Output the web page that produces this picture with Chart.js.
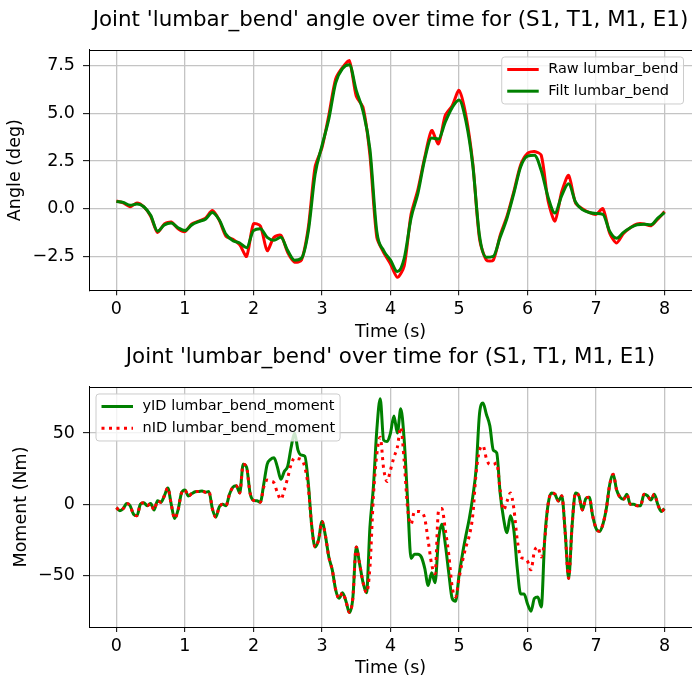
<!DOCTYPE html>
<html>
<head>
<meta charset="utf-8">
<script src="https://cdn.jsdelivr.net/npm/chart.js@4.4.1/dist/chart.umd.min.js"></script>
<style>
    html, body { margin: 0; padding: 0; background: #fff; }
    #wrap { position: relative; width: 692px; height: 686px; overflow: hidden; }
    canvas { position: absolute; left: 0; }
    #angleChart { top: 0; }
    #momentChart { top: 336px; }
</style>
</head>
<body>
<div id="wrap">
    <canvas id="angleChart" width="692" height="343"></canvas>
    <canvas id="momentChart" width="692" height="350"></canvas>
</div>
<script>
// Верхний график: угол
const angleTime = [0,0.1,0.2,0.3,0.4,0.5,0.6,0.7,0.8,0.9,
    1,1.1,1.2,1.3,1.4,1.5,1.6,1.7,1.8,1.9,
    2,2.1,2.2,2.3,2.4,2.5,2.6,2.7,2.8,2.9,
    3,3.1,3.2,3.3,3.4,3.5,3.6,3.7,3.8,3.9,
    4,4.1,4.2,4.3,4.4,4.5,4.6,4.7,4.8,4.9,
    5,5.1,5.2,5.3,5.4,5.5,5.6,5.7,5.8,5.9,
    6,6.1,6.2,6.3,6.4,6.5,6.6,6.7,6.8,6.9,
    7,7.1,7.2,7.3,7.4,7.5,7.6,7.7,7.8,7.9,
    8];
const rawAngle = [0.4,0.3,0.1,0.3,0.1,-0.4,-1.25,-0.8,-0.7,-1.05,
    -1.2,-0.8,-0.65,-0.5,-0.1,-0.6,-1.45,-1.6,-1.9,-2.5,
    -0.8,-0.9,-2.2,-1.5,-1.4,-2.3,-2.8,-2.7,-1.0,2.2,
    3.2,4.9,6.8,7.4,7.75,5.9,5.3,2.8,-1.5,-2.3,
    -2.9,-3.6,-3.0,-0.3,1.0,2.7,4.1,3.4,4.9,5.4,
    6.2,4.9,2.4,-1.6,-2.7,-2.7,-1.4,-0.4,0.9,2.3,
    2.9,3.0,2.8,0.4,-0.65,0.9,1.75,0.3,0.0,-0.2,
    -0.3,0.0,-1.3,-1.8,-1.3,-1.0,-0.8,-0.8,-0.9,-0.55,
    -0.15];
const filtAngle = [0.38,0.33,0.18,0.24,0.1,-0.35,-1.18,-0.85,-0.75,-1.0,
    -1.15,-0.85,-0.68,-0.55,-0.2,-0.58,-1.35,-1.68,-1.8,-2.05,
    -1.15,-1.05,-1.5,-1.65,-1.5,-2.2,-2.7,-2.6,-1.2,1.8,
    3.3,4.7,6.6,7.35,7.55,6.2,5.1,3.1,-1.2,-2.2,
    -2.7,-3.3,-2.6,-0.5,0.8,2.6,3.7,3.65,4.55,5.3,
    5.7,4.6,2.3,-1.45,-2.55,-2.5,-1.5,-0.5,0.8,2.2,
    2.75,2.8,2.0,0.6,-0.23,0.7,1.3,0.35,-0.05,-0.2,
    -0.25,-0.3,-1.2,-1.55,-1.24,-1.0,-0.84,-0.82,-0.84,-0.5,
    -0.2];

// Нижний график: момент
const momentTime = [0,0.05,0.1,0.15,0.2,0.25,0.3,0.35,0.4,0.45,
    0.5,0.55,0.6,0.65,0.7,0.75,0.8,0.85,0.9,0.95,
    1,1.05,1.1,1.15,1.2,1.25,1.3,1.35,1.4,1.45,
    1.5,1.55,1.6,1.65,1.7,1.75,1.8,1.85,1.9,1.95,
    2,2.05,2.1,2.15,2.2,2.25,2.3,2.35,2.4,2.45,
    2.5,2.55,2.6,2.65,2.7,2.75,2.8,2.85,2.9,2.95,
    3,3.05,3.1,3.15,3.2,3.25,3.3,3.35,3.4,3.45,
    3.5,3.55,3.6,3.65,3.7,3.75,3.8,3.85,3.9,3.95,
    4,4.05,4.1,4.15,4.2,4.25,4.3,4.35,4.4,4.45,
    4.5,4.55,4.6,4.65,4.7,4.75,4.8,4.85,4.9,4.95,
    5,5.05,5.1,5.15,5.2,5.25,5.3,5.35,5.4,5.45,
    5.5,5.55,5.6,5.65,5.7,5.75,5.8,5.85,5.9,5.95,
    6,6.05,6.1,6.15,6.2,6.25,6.3,6.35,6.4,6.45,
    6.5,6.55,6.6,6.65,6.7,6.75,6.8,6.85,6.9,6.95,
    7,7.05,7.1,7.15,7.2,7.25,7.3,7.35,7.4,7.45,
    7.5,7.55,7.6,7.65,7.7,7.75,7.8,7.85,7.9,7.95,
    8];
const yIdMoment = [-2.3,-4.5,-3,0.5,-1,-7,-8,0,1,-1,
    0.5,-4,2.5,1.5,6,11.5,0,-10,-4,8,
    10,5.8,7.5,8.8,9,9.3,8.5,9,-3,-9,
    -2,0,-1,7,12,13,8,28,26,8,
    2.8,2.5,1.5,14,28,31.5,32.6,26,17.5,23,
    26.7,40,50,38,34.5,33.7,15,-15,-30,-25,
    -12,-22,-37,-46,-60,-66,-62,-68,-76,-66,
    -30,-42,-55,-62,-16,12,52,74,45,44,
    50,62,50,67,45,2.3,-38,-35,-35,-37,
    -45,-57,-48,-55,-25,-14,-28,-48,-66,-68,
    -50,-35,-22,-10,5,25,64,71,63,55,
    38,36,8,-10,-20,-8,-18,-45,-63,-63,
    -70,-75,-66,-65,-72,-25,0,8,7,2.3,
    6,-20,-52,-15,8,6,-4,4,5,-8,
    -17,-19,-14,-3,14,21,10,5,3.5,7,
    0,0,-1,-1,7,6,3,7,0,-5,
    -3];
const nIdMoment = [-2.3,-4.5,-3,0.5,-1,-7,-8,0,1,-1,
    0.5,-4,2.5,1.5,6,11.5,0,-10,-4,8,
    10,5.8,7.5,8.8,9,9.3,8.5,9,-3,-9,
    -2,0,-1,7,12,13,8,28,26,8,
    2.8,2.5,1.5,12,17,16.3,15,8,3.5,10,
    18.6,28,32.6,32,31.4,26,12,-15,-30,-25,
    -12,-22,-37,-46,-60,-66,-62,-68,-76,-66,
    -30,-42,-55,-62,-44,5,35,47,25,16,
    24,33,40,54,30,-3,-14,-5,-5,-5.5,
    -10,-25.6,-42,-48.8,-5,-3,-18,-35,-58,-65,
    -52,-40,-30,-22,-8,22,38,41,32,28,
    28,29,10,-4,2,8,-3,-25,-37,-38,
    -40,-46,-33,-30,-37,-25,0,8,7,2.3,
    6,-20,-52,-15,8,6,-4,4,5,-8,
    -17,-19,-14,-3,14,21,10,5,3.5,7,
    0,0,-1,-1,7,6,3,7,0,-5,
    -3];

// Метки осей
const timeTicks = [0, 1, 2, 3, 4, 5, 6, 7, 8];
const angleTicks = [-2.5, 0, 2.5, 5, 7.5];
const momentTicks = [-50, 0, 50];

const FONT = "'DejaVu Sans', sans-serif";
const TICK_SIZE = 17.5;
Chart.defaults.color = '#000';
Chart.defaults.font.family = FONT;

const toPoints = (xs, ys) => xs.map((x, i) => ({x: x, y: ys[i]}));
const minus = s => s.replace('-', '\u2212');

// Легенда в рамке, как в matplotlib
const boxLegend = {
    id: 'boxLegend',
    afterDraw(chart, args, opts) {
        const ctx = chart.ctx, area = chart.chartArea;
        const sets = chart.data.datasets;
        ctx.save();
        ctx.font = '14.5px ' + FONT;
        const textW = Math.max(...sets.map(d => ctx.measureText(d.label).width));
        const w = 46.5 + textW + 5, h = 47;
        const x = opts.side === 'right' ? area.right - 8.5 - w : area.left + 7;
        const y = area.top + 7;
        ctx.beginPath();
        ctx.roundRect(x, y, w, h, 3);
        ctx.fillStyle = 'rgba(255,255,255,0.8)';
        ctx.fill();
        ctx.strokeStyle = '#cccccc';
        ctx.lineWidth = 1;
        ctx.stroke();
        sets.forEach((d, i) => {
            const cy = y + 12.5 + i * 21.7;
            ctx.beginPath();
            ctx.setLineDash(d.borderDash || []);
            ctx.strokeStyle = d.borderColor;
            ctx.lineWidth = d.borderWidth;
            ctx.moveTo(x + 5.5, cy);
            ctx.lineTo(x + 37, cy);
            ctx.stroke();
            ctx.setLineDash([]);
            ctx.fillStyle = '#000';
            ctx.textBaseline = 'middle';
            ctx.textAlign = 'left';
            ctx.fillText(d.label, x + 46.5, cy);
        });
        ctx.restore();
    }
};

// Верхняя рамка области графика
const topSpine = {
    id: 'topSpine',
    afterDatasetsDraw(chart) {
        const ctx = chart.ctx, a = chart.chartArea;
        ctx.save();
        ctx.strokeStyle = '#000';
        ctx.lineWidth = 1;
        ctx.beginPath();
        ctx.moveTo(a.left, Math.round(a.top) + 0.5);
        ctx.lineTo(a.right, Math.round(a.top) + 0.5);
        ctx.stroke();
        ctx.restore();
    }
};

function makeOptions(p) {
    return {
        responsive: false,
        animation: false,
        layout: { padding: 0 },
        plugins: {
            legend: { display: false },
            tooltip: { enabled: false },
            title: {
                display: true,
                text: p.title,
                fullSize: false,
                font: { size: 21.4, weight: 'normal', family: FONT },
                padding: { top: p.titleTop, bottom: p.titleBottom }
            },
            boxLegend: { side: p.legendSide }
        },
        scales: {
            x: {
                type: 'linear',
                min: -0.4,
                max: 8.4,
                afterFit: s => { s.height = p.xHeight; },
                afterBuildTicks: s => { s.ticks = timeTicks.map(v => ({value: v})); },
                ticks: { font: { size: TICK_SIZE }, padding: 4, maxRotation: 0, callback: v => String(v) },
                grid: { color: '#c4c4c4', lineWidth: 1.3, tickLength: 5, tickColor: '#000', tickWidth: 1 },
                border: { display: true, color: '#000', width: 1 },
                title: { display: true, text: 'Time (s)', font: { size: TICK_SIZE }, padding: { top: 0, bottom: p.xTitleBottom } }
            },
            y: {
                min: p.yMin,
                max: p.yMax,
                afterFit: s => { s.width = 89; },
                afterBuildTicks: s => { s.ticks = p.yTicks.map(v => ({value: v})); },
                ticks: { font: { size: TICK_SIZE }, padding: 8, callback: p.yFormat },
                grid: { color: '#c4c4c4', lineWidth: 1.3, tickLength: 6, tickColor: '#000', tickWidth: 1 },
                border: { display: true, color: '#000', width: 1 },
                title: { display: true, text: p.yTitle, font: { size: TICK_SIZE }, padding: { top: p.yTitleLeft, bottom: 0 } }
            }
        }
    };
}

new Chart(document.getElementById('angleChart'), {
    type: 'line',
    data: {
        datasets: [{
            label: 'Raw lumbar_bend',
            data: toPoints(angleTime, rawAngle),
            borderColor: '#ff0000',
            borderWidth: 3,
            pointRadius: 0,
            tension: 0.25,
            order: 2
        }, {
            label: 'Filt lumbar_bend',
            data: toPoints(angleTime, filtAngle),
            borderColor: '#008000',
            borderWidth: 3,
            pointRadius: 0,
            cubicInterpolationMode: 'monotone',
            order: 1
        }]
    },
    options: makeOptions({
        title: "Joint 'lumbar_bend' angle over time for (S1, T1, M1, E1)",
        titleTop: 8, titleBottom: 16.3,
        xHeight: 52.7, xTitleBottom: 0,
        yMin: -4.28, yMax: 8.32, yTicks: angleTicks,
        yFormat: v => minus(Number(v).toFixed(1)),
        yTitle: 'Angle (deg)', yTitleLeft: 5,
        legendSide: 'right'
    }),
    plugins: [topSpine, boxLegend]
});

new Chart(document.getElementById('momentChart'), {
    type: 'line',
    data: {
        datasets: [{
            label: 'yID lumbar_bend_moment',
            data: toPoints(momentTime, yIdMoment),
            borderColor: '#008000',
            borderWidth: 3,
            pointRadius: 0,
            cubicInterpolationMode: 'monotone',
            order: 2
        }, {
            label: 'nID lumbar_bend_moment',
            data: toPoints(momentTime, nIdMoment),
            borderColor: '#ff0000',
            borderWidth: 3,
            borderDash: [3, 4.5],
            pointRadius: 0,
            cubicInterpolationMode: 'monotone',
            order: 1
        }]
    },
    options: makeOptions({
        title: "Joint 'lumbar_bend' over time for (S1, T1, M1, E1)",
        titleTop: 8.5, titleBottom: 16.8,
        xHeight: 59, xTitleBottom: 7.5,
        yMin: -86.1, yMax: 82.3, yTicks: momentTicks,
        yFormat: v => minus(String(v)),
        yTitle: 'Moment (Nm)', yTitleLeft: 10.5,
        legendSide: 'left'
    }),
    plugins: [topSpine, boxLegend]
});
</script>
</body>
</html>
